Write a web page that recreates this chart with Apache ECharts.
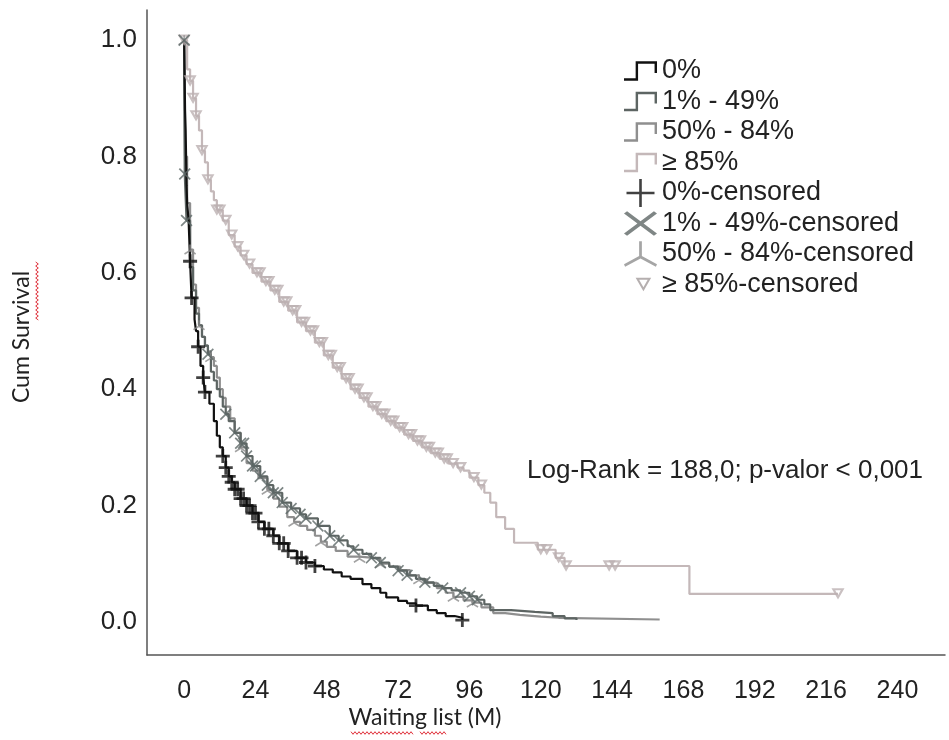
<!DOCTYPE html>
<html><head><meta charset="utf-8">
<script src="https://cdn.jsdelivr.net/npm/echarts@6/dist/echarts.min.js"></script>
<style>html,body{margin:0;padding:0;background:#fff}#c{width:949px;height:740px}</style>
</head><body><div id="c"></div>
<script>
// ---- data (months, cumulative survival) ----
const groupNames = ['0%', '1% - 49%', '50% - 84%', '≥ 85%'];
const censoredNames = ['0%-censored', '1% - 49%-censored', '50% - 84%-censored', '≥ 85%-censored'];
const xTicks = [0, 24, 48, 72, 96, 120, 144, 168, 192, 216, 240];
const yTicks = [0, 0.2, 0.4, 0.6, 0.8, 1.0];

const km0 = [[0,1],[0.3,0.88],[0.5,0.845],[0.8,0.75],[1,0.72],[1.5,0.69],[2,0.62],[2.5,0.557],[3.5,0.52],[4,0.5],[4.7,0.473],[5.5,0.44],[6.4,0.42],[7,0.395],[8.5,0.375],[10,0.345],[11,0.32],[12,0.3],[13,0.285],[14,0.265],[15,0.25],[16,0.24],[17,0.228],[19,0.212],[21,0.2],[23,0.187],[25,0.172],[27,0.16],[30,0.148],[32,0.135],[35,0.122],[38,0.11],[41,0.102],[44,0.096],[47,0.09],[50,0.085],[53,0.078],[56,0.074],[60,0.065],[63,0.058],[66,0.05],[68,0.042],[72,0.036],[75,0.032],[78,0.028],[82,0.02],[85,0.015],[88,0.01],[91,0.007],[93.6,0.003]];
const km1 = [[0,1],[0.2,0.77],[0.8,0.69],[2,0.61],[3,0.57],[4,0.53],[5,0.51],[6,0.49],[7,0.475],[8,0.46],[9,0.43],[10,0.415],[11,0.4],[12,0.387],[13,0.37],[14,0.357],[15,0.345],[17,0.325],[19,0.307],[21,0.285],[23,0.268],[25.6,0.25],[28,0.235],[30,0.222],[33,0.205],[36,0.195],[39,0.185],[41,0.178],[45,0.165],[49,0.148],[52,0.14],[55,0.13],[57,0.124],[60,0.117],[63,0.11],[66,0.102],[69,0.095],[72,0.088],[75,0.08],[78,0.074],[81,0.068],[84,0.062],[87,0.058],[90,0.054],[93,0.05],[96,0.044],[98.6,0.038],[101,0.03],[103,0.02],[110,0.017],[118,0.015],[124,0.01],[128,0.006],[132,0.003]];
const km2 = [[0,1],[0.3,0.8],[1,0.72],[2,0.64],[3,0.58],[4,0.54],[5,0.51],[6,0.49],[7,0.475],[8,0.465],[9,0.455],[10,0.44],[11,0.42],[12,0.4],[13,0.385],[14,0.37],[15.5,0.35],[17,0.325],[19,0.3],[21,0.273],[23,0.26],[25,0.247],[28,0.227],[30,0.212],[32,0.198],[34.7,0.18],[37,0.172],[39,0.165],[41.4,0.158],[44,0.148],[46,0.138],[48,0.129],[51,0.122],[55,0.112],[59,0.11],[63.6,0.107],[66,0.1],[69,0.095],[72.7,0.089],[76,0.08],[79,0.073],[81.8,0.067],[85,0.058],[88,0.05],[90.6,0.043],[94,0.037],[97,0.033],[100,0.025],[104,0.015],[108,0.012],[113,0.009],[120,0.007],[126,0.004],[160,0.004]];
const km3 = [[0,1],[1,0.95],[2,0.93],[3,0.9],[4,0.87],[5,0.845],[6,0.81],[7,0.79],[8,0.76],[9,0.74],[10,0.725],[11,0.708],[13,0.69],[15,0.665],[17,0.645],[19,0.63],[21,0.615],[23,0.6],[26,0.585],[29,0.57],[32,0.55],[35,0.535],[38,0.515],[41,0.5],[44,0.48],[47,0.458],[50,0.437],[53,0.418],[56,0.4],[59,0.385],[62,0.37],[65,0.357],[68,0.345],[71,0.334],[74,0.322],[77,0.311],[80,0.3],[83,0.29],[86,0.28],[89,0.272],[92,0.265],[94,0.26],[96,0.248],[99,0.235],[101,0.222],[103,0.205],[105,0.18],[108,0.16],[111,0.136],[119,0.124],[125,0.11],[128,0.096],[170,0.048],[220,0.048]];

const cens0 = [[2,0.62],[2.5,0.557],[4.7,0.473],[6.4,0.42],[7,0.395],[13,0.285],[14,0.265],[15,0.25],[16,0.24],[17,0.228],[18,0.228],[19,0.212],[20,0.212],[21,0.2],[22,0.2],[23,0.187],[24,0.187],[25,0.172],[27,0.16],[28.5,0.16],[30,0.148],[32,0.135],[33.5,0.135],[35,0.122],[38,0.11],[39.5,0.11],[41,0.102],[44,0.096],[78,0.028],[93.6,0.003]];
const cens1 = [[0,1],[0.2,0.77],[0.8,0.69],[8,0.46],[14,0.357],[17,0.325],[19,0.307],[20,0.307],[21,0.285],[23,0.268],[24,0.268],[25.6,0.25],[28,0.235],[30,0.222],[31.5,0.222],[33,0.205],[36,0.195],[39,0.185],[41,0.178],[45,0.165],[49,0.148],[52,0.14],[57,0.124],[63,0.11],[66,0.102],[72,0.088],[75,0.08],[81,0.068],[87,0.058],[93,0.05],[96,0.044],[98.6,0.038]];
const cens2 = [[0,1],[2,0.64],[5,0.51],[9,0.455],[19,0.3],[28,0.227],[37,0.172],[46,0.138],[59,0.11],[66,0.1],[79,0.073],[90.6,0.043],[97,0.033]];
const cens3 = [[0,1],[2,0.93],[3,0.9],[4,0.87],[6,0.81],[8,0.76],[11,0.708],[12,0.708],[14,0.69],[16,0.665],[18,0.645],[20,0.63],[22,0.615],[24.5,0.6],[25.5,0.6],[27.5,0.585],[28.5,0.585],[30.5,0.57],[31.5,0.57],[33.5,0.55],[34.5,0.55],[36.5,0.535],[37.5,0.535],[39.5,0.515],[40.5,0.515],[42.5,0.5],[43.5,0.5],[45.5,0.48],[46.5,0.48],[48.5,0.458],[49.5,0.458],[51.5,0.437],[52.5,0.437],[54.5,0.418],[55.5,0.418],[57.5,0.4],[58.5,0.4],[60.5,0.385],[61.5,0.385],[63.5,0.37],[64.5,0.37],[66.5,0.357],[67.5,0.357],[69.5,0.345],[70.5,0.345],[72.5,0.334],[73.5,0.334],[75.5,0.322],[76.5,0.322],[78.5,0.311],[79.5,0.311],[81.5,0.3],[82.5,0.3],[84.5,0.29],[85.5,0.29],[87.5,0.28],[88.5,0.28],[90.5,0.272],[93,0.265],[97.5,0.248],[100,0.235],[120,0.124],[122,0.124],[126,0.11],[128.5,0.096],[143,0.096],[145,0.096],[220,0.048]];

const annotation = 'Log-Rank = 188,0; p-valor < 0,001';
const xTitle = 'Waiting list (M)';
const yTitle = 'Cum Survival';

// ---- styles ----
const lineColors = ['#111111', '#5d6563', '#8f8f8f', '#c4b8b9'];
const censColors = ['#111111', '#5d6866', '#8c8c8c', '#bcb0b1'];
const legendCensColors = ['#111111', '#5f6866', '#8e8e8e', '#a39b9b'];
const FONT = '"Liberation Sans", Arial, sans-serif';
const TITLE_FONT = '23px Lato, "Open Sans", sans-serif';

const stepIcon = 'path://M0,17.5H12V0H34V12H31.5V2.5H14.5V20H0Z';
const plusIcon = 'path://M13.6,0H16.4V13.6H30V16.4H16.4V30H13.6V16.4H0V13.6H13.6Z';
const crossIcon = 'path://M0,1.8L2.5,0L13.5,8.2L24.5,0L27,1.8L16,10L27,18.2L24.5,20L13.5,11.8L2.5,20L0,18.2L11,10Z';
const tripodIcon = 'path://M13.75,0H16.25V13.5L30,21L29,23.2L15,15.8L1,23.2L0,21L13.75,13.5Z';
const triIcon = 'path://M-12,-7M0,0L16,0L8,14ZM3.6,2.1L8,9.8L12.4,2.1ZM22,21';

const plusMark = 'path://M12,0h6v12h12v6h-12v12h-6v-12h-12v-6h12z';
const crossMark = 'path://M0,3L3,0L15,12L27,0L30,3L18,15L30,27L27,30L15,18L3,30L0,27L12,15Z';
const tripodMark = 'path://M13,0H17V14L30,22L28,25.5L15,17.5L2,25.5L0,22L13,14Z';
const triMark = 'path://M0,0L16,0L8,14ZM4.6,2.6L8,8.5L11.4,2.6Z';

const kms = [km0, km1, km2, km3];
const cens = [cens0, cens1, cens2, cens3];
const marks = [plusMark, crossMark, tripodMark, triMark];
const markSizes = [14, 12, 12, 13];
const legIcons = [plusIcon, crossIcon, tripodIcon, triIcon];

const series = [];
[3, 2, 1, 0].forEach(i => {
  series.push({
    name: groupNames[i], type: 'line', step: 'end', data: kms[i],
    showSymbol: false, symbol: 'none',
    lineStyle: { color: lineColors[i], width: 2.2 },
    itemStyle: { color: lineColors[i] },
    z: 2 + (3 - i)
  });
});
[3, 2, 1, 0].forEach(i => {
  series.push({
    name: censoredNames[i], type: 'scatter', data: cens[i],
    symbol: marks[i], symbolSize: markSizes[i], symbolKeepAspect: true,
    itemStyle: { color: censColors[i] },
    z: 10 + (3 - i)
  });
});

const legendData = groupNames.map((n, i) => ({ name: n, icon: stepIcon, itemStyle: { color: lineColors[i] } }))
  .concat(censoredNames.map((n, i) => ({ name: n, icon: legIcons[i], itemStyle: { color: legendCensColors[i] } })));

// decorative red spell-check squiggles under the axis titles
function squiggle(x0, x1, y, vertical) {
  const pts = [];
  let k = 0;
  for (let p = x0; p <= x1; p += 2, k++) {
    const off = (k % 2 === 0) ? -1.3 : 1.3;
    pts.push(vertical ? [y + off, p] : [p, y + off]);
  }
  return { type: 'polyline', shape: { points: pts }, style: { stroke: '#e0303a', lineWidth: 1, fill: null }, silent: true };
}

const chart = echarts.init(document.getElementById('c'), null, { renderer: 'canvas' });
chart.setOption({
  animation: false,
  backgroundColor: '#ffffff',
  grid: { left: 147, top: 10, right: 4, bottom: 85, containLabel: false },
  xAxis: {
    type: 'value', min: -12.5, max: 256,
    axisLine: { show: true, onZero: false, lineStyle: { color: '#555', width: 1.5 } },
    axisTick: { show: false },
    splitLine: { show: false },
    axisLabel: { customValues: xTicks, margin: 24, color: '#222', fontSize: 25, fontFamily: FONT }
  },
  yAxis: {
    type: 'value', min: -0.057, max: 1.052,
    axisLine: { show: true, onZero: false, lineStyle: { color: '#555', width: 1.5 } },
    axisTick: { show: false },
    splitLine: { show: false },
    axisLabel: { customValues: yTicks, margin: 10, color: '#222', fontSize: 26, fontFamily: FONT,
      formatter: v => v.toFixed(1) }
  },
  legend: {
    orient: 'vertical', left: 624, top: 57, padding: 0,
    itemWidth: 33, itemHeight: 28, itemGap: 2.5,
    itemStyle: { borderWidth: 0 },
    textStyle: { fontSize: 27, fontFamily: FONT, color: '#222', lineHeight: 28 },
    selectedMode: false,
    data: legendData
  },
  graphic: [
    { type: 'text', left: 527, top: 458, style: { text: annotation, font: '26px ' + FONT, fill: '#222' } },
    { type: 'text', x: 425, y: 718, style: { text: xTitle, font: TITLE_FONT, fill: '#222', align: 'center', verticalAlign: 'middle' } },
    { type: 'text', x: 22, y: 337, rotation: Math.PI / 2, style: { text: yTitle, font: TITLE_FONT, fill: '#222', align: 'center', verticalAlign: 'middle' } },
    squiggle(351, 414, 733, false),
    squiggle(420, 447, 733, false),
    squiggle(262, 320, 37, true)
  ],
  series: series
});
</script>
</body></html>
